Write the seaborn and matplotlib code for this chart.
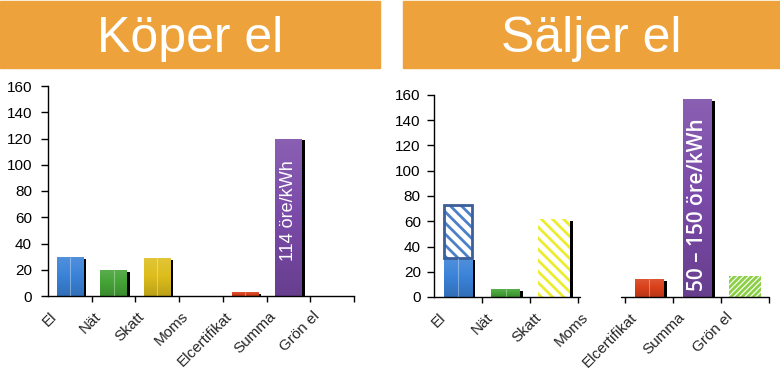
import numpy as np
import matplotlib
matplotlib.use("Agg")
import matplotlib.pyplot as plt
from matplotlib.patches import Rectangle
from matplotlib.transforms import ScaledTranslation
from matplotlib.colors import to_rgb, LinearSegmentedColormap
import seaborn as sns

# ---------------- data ----------------
categories = ["El", "Nät", "Skatt", "Moms", "Elcertifikat", "Summa", "Grön el"]
buy_values = [30, 20, 29, 0, 3, 120, 0]
sell_solid = [31, 6, 0, 0, 14.5, 157, 0]
sell_hatched = [42, 0, 62, 0, 0, 0, 17]
yticks = [0, 20, 40, 60, 80, 100, 120, 140, 160]
title_left = "Köper el"
title_right = "Säljer el"
label_left = "114 öre/kWh"
label_right = "50 – 150 öre/kWh"

# ---------------- style ----------------
sns.set_style("white")
plt.rcParams["font.family"] = ["Liberation Sans", "DejaVu Sans"]
plt.rcParams["hatch.linewidth"] = 2.0

solid_colors = ["#3a82d8", "#44a336", "#ddbd1c", "#888888", "#d9401a", "#7a4aa8", "#8cd048"]
hatch_colors = ["#4c80c8", "#ffffff", "#ecec30", "#ffffff", "#ffffff", "#ffffff", "#8cd048"]
hatch_pats = ["\\\\\\", "", "\\\\\\", "", "", "", "//////"]
orange = "#eda23c"

W, H = 780, 371
fig = plt.figure(figsize=(W / 100, H / 100), dpi=100)

# title boxes
for x0, x1, txt in [(0, 380, title_left), (403, 780, title_right)]:
    fig.patches.append(Rectangle((x0 / W, (H - 68) / H), (x1 - x0) / W, 67 / H,
                                 transform=fig.transFigure, color=orange, zorder=0))
    fig.text((x0 + x1) / 2 / W, (H - 52) / H, txt, ha="center", va="baseline",
             color="white", fontsize=36)

axL = fig.add_axes([48 / W, 75 / H, 306 / W, 210 / H])
axR = fig.add_axes([434 / W, 74 / H, 335 / W, 202 / H])

idx = np.arange(len(categories))
bw = 0.6


def shadow(ax, heights, px_per_cat, mask, widths):
    dx = 3.0 / px_per_cat
    h = np.array(heights, dtype=float)
    h = np.where(np.array(mask) & (h > 0), np.maximum(h - 1.5, 0), 0)
    ax.bar(idx + dx, h, width=widths, color="black", zorder=0.8, linewidth=0)


def gradient(ax, patches, colors):
    for p, c in zip(patches, colors):
        if p.get_height() <= 0:
            continue
        r = np.array(to_rgb(c))
        top = np.clip(r + (1 - r) * 0.12, 0, 1)
        bot = r * 0.85
        cmap = LinearSegmentedColormap.from_list("g", [bot, r, top])
        x0, y0 = p.get_x(), p.get_y()
        img = ax.imshow(np.linspace(0, 1, 64).reshape(-1, 1), cmap=cmap, origin="lower",
                        extent=[x0, x0 + p.get_width(), y0, y0 + p.get_height()],
                        aspect="auto", zorder=2.1, interpolation="bilinear")
        img.set_clip_path(p)


def highlight(ax, heights, skip):
    for i, v in enumerate(heights):
        if v > 0 and i != skip:
            ax.vlines(i, 0, v, color="white", alpha=0.35, lw=0.8, zorder=3)


# ---- left chart ----
shadow(axL, buy_values, 306 / 7, [True] * 7, bw)
sns.barplot(x=categories, y=buy_values, hue=categories, palette=solid_colors,
            width=bw, saturation=1, legend=False, ax=axL, linewidth=0, zorder=2)
gradient(axL, list(axL.patches)[7:], solid_colors)
highlight(axL, buy_values, 5)
axL.text(5, buy_values[5] * 0.54, label_left, rotation=90, color="white",
         ha="center", va="center", fontsize=13, zorder=4)

# ---- right chart ----
solid_arr = np.array(sell_solid, dtype=float)
hatch_arr = np.array(sell_hatched, dtype=float)
shadow_h = np.where(solid_arr > 0, solid_arr, hatch_arr)
mask_r = [True, True, True, True, True, True, False]
hw = np.where((solid_arr == 0) & (hatch_arr > 0), 0.67, bw)
shadow(axR, shadow_h, 335 / 7, mask_r, hw)
sns.barplot(x=categories, y=sell_solid, hue=categories, palette=solid_colors,
            width=bw, saturation=1, legend=False, ax=axR, linewidth=0, zorder=2)
gradient(axR, list(axR.patches)[7:], solid_colors)
highlight(axR, sell_solid, 5)
for i in idx:
    if hatch_arr[i] > 0:
        axR.bar(i, hatch_arr[i], bottom=solid_arr[i], width=hw[i], color="white",
                edgecolor=hatch_colors[i], hatch=hatch_pats[i], linewidth=0, zorder=2)
        if solid_arr[i] > 0:
            axR.bar(i, hatch_arr[i], bottom=solid_arr[i], width=hw[i], fill=False,
                    edgecolor="#3b5f98", linewidth=2, zorder=2.5)
axR.text(5, 73, label_right, rotation=90, color="white", ha="center",
         va="center", fontsize=15, family=["Open Sans", "DejaVu Sans"],
         fontweight="semibold", zorder=4)

# ---- axes styling ----
for ax, ypad in [(axL, 6.5), (axR, 4.5)]:
    ax.set_xlim(-0.5, 6.5)
    ax.set_ylim(0, 160)
    ax.set_yticks(yticks)
    ax.set_xlabel("")
    ax.set_ylabel("")
    for s in ["top", "right"]:
        ax.spines[s].set_visible(False)
    for s in ["left", "bottom"]:
        ax.spines[s].set_color("black")
        ax.spines[s].set_linewidth(1)
    ax.tick_params(axis="y", length=5, width=1, direction="out", pad=ypad,
                   labelsize=11, left=True, colors="black")
    ax.set_xticks(idx)
    ax.set_xticklabels(categories, rotation=45, ha="right", va="top", fontsize=11)
    ax.tick_params(axis="x", which="major", length=0, pad=9.5, bottom=True)
    ax.set_xticks(np.arange(0.5, 7, 1), minor=True)
    ax.tick_params(axis="x", which="minor", length=4, width=1, direction="out",
                   bottom=True, color="black")
    off = ScaledTranslation(-10 / 100, 0, fig.dpi_scale_trans)
    for lab in ax.get_xticklabels():
        lab.set_transform(lab.get_transform() + off)

# gap in right x axis line
axR.spines["bottom"].set_visible(False)
axR.plot([-0.5, 2.55], [0, 0], color="black", lw=1, clip_on=False, zorder=5)
axR.plot([3.4, 6.5], [0, 0], color="black", lw=1, clip_on=False, zorder=5)

fig.savefig("out.png", dpi=100)
